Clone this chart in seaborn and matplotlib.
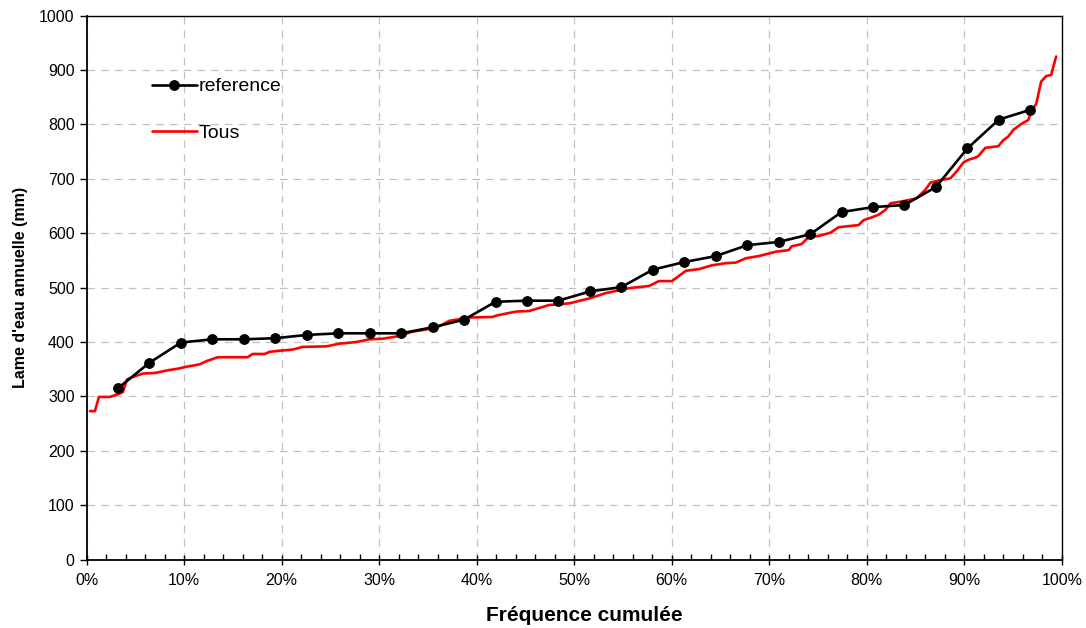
import numpy as np
import pandas as pd
import seaborn as sns
import matplotlib
matplotlib.use("Agg")
import matplotlib.pyplot as plt
from matplotlib.ticker import PercentFormatter, MultipleLocator

# reference series: 30 years, plotted at i/(n+1)
ref_values = [315, 362, 399, 405, 405, 407, 413, 416, 416, 416,
              427, 441, 474, 476, 476, 493, 501, 533, 547, 558,
              578, 584, 598, 639, 648, 652, 685, 756, 809, 827]

# "Tous" series (cumulated frequency in %, value in mm)
tous_freq = [0.35, 0.86, 1.27, 2.40, 3.21, 3.73, 4.14, 4.65, 5.77, 7.00,
             8.33, 9.36, 10.38, 11.61, 12.32, 13.45, 16.52, 17.03, 18.26, 18.77,
             19.80, 21.13, 22.15, 24.61, 25.93, 27.68, 29.01, 30.34, 32.08, 33.41,
             34.84, 36.17, 37.20, 38.22, 39.25, 41.60, 42.11, 44.05, 45.38, 47.43,
             49.48, 51.52, 53.26, 55.62, 57.67, 58.70, 60.03, 61.46, 62.79, 64.12,
             65.55, 66.57, 67.60, 68.93, 70.67, 72.00, 72.30, 73.32, 74.04, 75.06,
             76.29, 77.11, 78.13, 79.16, 79.67, 80.49, 81.21, 81.92, 82.43, 83.46,
             84.28, 85.10, 86.02, 86.53, 87.35, 88.58, 89.19, 89.91, 90.42, 91.14,
             91.44, 92.16, 93.49, 94.00, 94.52, 95.03, 95.85, 96.56, 96.87, 97.38,
             97.89, 98.40, 98.91, 99.42]
tous_values = [273, 273, 299, 299, 304, 308, 331, 335, 342, 343,
               348, 351, 355, 359, 365, 372, 372, 378, 378, 382,
               384, 386, 391, 392, 397, 400, 405, 406, 411, 419,
               423, 429, 439, 442, 445, 446, 449, 456, 457, 468,
               471, 480, 490, 499, 503, 512, 512, 531, 534, 541,
               545, 546, 554, 558, 566, 569, 576, 580, 593, 595,
               601, 611, 613, 615, 624, 629, 634, 643, 655, 658,
               661, 664, 680, 693, 697, 701, 713, 730, 735, 739,
               742, 757, 760, 771, 778, 790, 801, 808, 824, 838,
               879, 889, 891, 925]

n_ref = len(ref_values)
ref = pd.DataFrame({"freq": [100.0 * (i + 1) / (n_ref + 1) for i in range(n_ref)],
                    "value": ref_values})
tous = pd.DataFrame({"freq": tous_freq, "value": tous_values})

sns.set_style("white")
plt.rcParams['font.family'] = ['Liberation Sans', 'DejaVu Sans']
plt.rcParams['text.color'] = 'black'
plt.rcParams['axes.labelcolor'] = 'black'
plt.rcParams['xtick.color'] = 'black'
plt.rcParams['ytick.color'] = 'black'

fig = plt.figure(figsize=(10.86, 6.28), dpi=100)
ax = fig.add_axes([0.0797, 0.109, 0.898, 0.866])

sns.lineplot(data=ref, x="freq", y="value", ax=ax, color="black", linewidth=1.9,
             marker="o", markersize=7, markeredgecolor="black", label="reference",
             sort=False, estimator=None, zorder=3)
sns.lineplot(data=tous, x="freq", y="value", ax=ax, color="#ff0000", linewidth=1.9,
             label="Tous", sort=False, estimator=None, zorder=2)

ax.set_xlim(0, 100)
ax.set_ylim(0, 1000)
ax.xaxis.set_major_locator(MultipleLocator(10))
ax.xaxis.set_minor_locator(MultipleLocator(2))
ax.yaxis.set_major_locator(MultipleLocator(100))
ax.xaxis.set_major_formatter(PercentFormatter(xmax=100, decimals=0))

ax.grid(True, which="major", color="#c0c0c0", linestyle=(0, (6, 5)), linewidth=0.9)
ax.set_axisbelow(True)
for side in ["left", "bottom", "right", "top"]:
    ax.spines[side].set_color("black")
    ax.spines[side].set_linewidth(1.0)
ax.spines["left"].set_linewidth(1.3)
ax.spines["bottom"].set_linewidth(1.3)

ax.tick_params(axis="x", which="major", direction="inout", length=7, width=1,
               color="black", labelsize=11.5, pad=6, bottom=True)
ax.tick_params(axis="x", which="minor", direction="in", length=4, width=1,
               color="black", bottom=True)
ax.tick_params(axis="y", which="major", direction="out", length=5, width=1,
               color="black", labelsize=11.5, left=True)

ax.set_xlabel("Fréquence cumulée", fontsize=15, fontweight="bold")
ax.xaxis.set_label_coords(0.51, -0.085)
ax.set_ylabel("Lame d'eau annuelle (mm)", fontsize=11.5, fontweight="bold", labelpad=8)

ax.legend(loc="upper left", bbox_to_anchor=(0.049, 0.918), frameon=False,
          fontsize=14, handlelength=2.3, handletextpad=0.1, labelspacing=1.5)

fig.savefig("out.png", dpi=100)
